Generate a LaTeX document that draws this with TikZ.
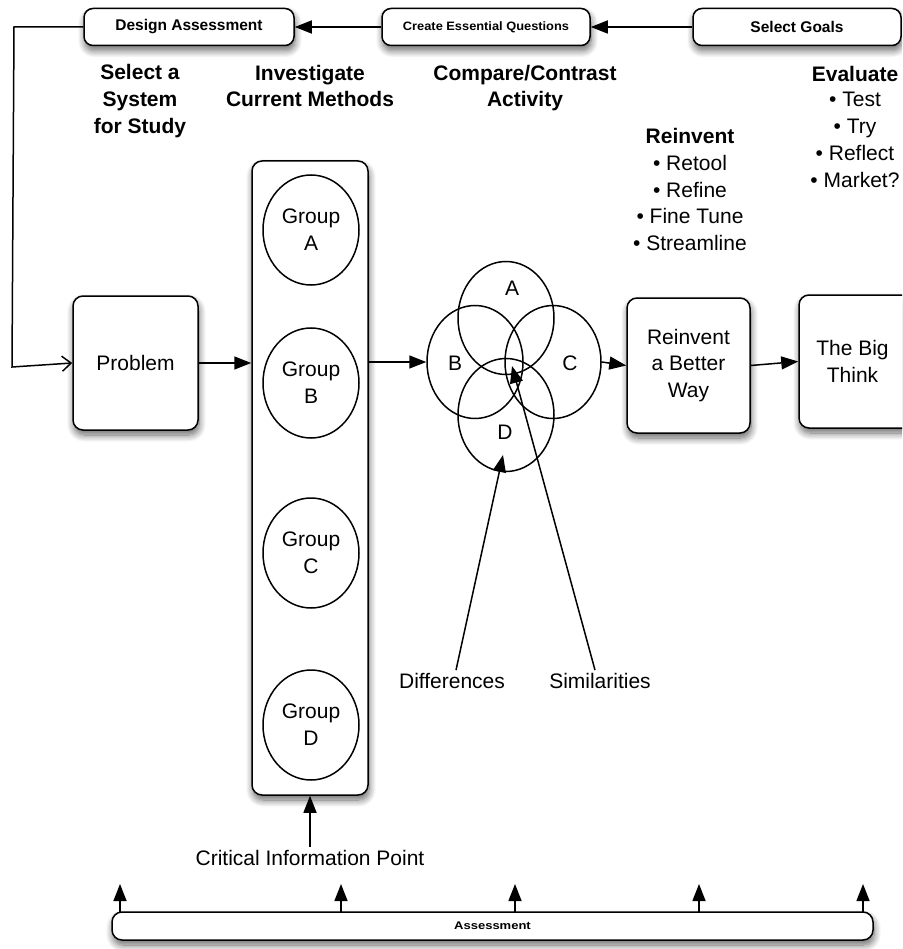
\documentclass[tikz,border=0pt]{standalone}
\usepackage{fontspec}
\setmainfont{Liberation Sans}
\usetikzlibrary{arrows.meta,shapes.geometric,shadows.blur}

\tikzset{
  ln/.style={line width=1.5pt},
  arr/.style={ln,-{Triangle[length=17pt,width=13pt]}},
  openarr/.style={ln,-{Straight Barb[length=9pt,width=15pt]}},
  softshadow/.style={blur shadow={shadow xshift=1pt,shadow yshift=-5pt,shadow blur steps=10,shadow blur radius=7pt,shadow opacity=60}},
  topbox/.style={draw,ln,rounded corners=9pt,fill=white,softshadow,minimum height=37pt,inner sep=0pt,font=\bfseries\fontsize{15.5}{17}\selectfont},
  stagebox/.style={draw,ln,rounded corners=10pt,fill=white,softshadow,inner sep=0pt,align=center,font=\fontsize{21}{26.5}\selectfont},
  grp/.style={draw,ln,ellipse,fill=white,minimum width=96pt,minimum height=110pt,inner sep=0pt,align=center,font=\fontsize{21}{27}\selectfont},
  venn/.style={draw,ln,ellipse,minimum width=96pt,minimum height=113pt,inner sep=0pt},
  lbl/.style={inner sep=0pt,font=\fontsize{21}{24}\selectfont},
  head/.style={inner sep=0pt,align=center,font=\bfseries\fontsize{21}{26.7}\selectfont},
  items/.style={inner sep=0pt,align=center,font=\fontsize{21}{26.9}\selectfont}
}

\begin{document}
\begin{tikzpicture}[x=1pt,y=-1pt]
\useasboundingbox (0,0) rectangle (902,949);
\begin{scope}
\clip (0,0) rectangle (902,949);

% planning boxes along the top
\node[topbox,minimum width=210pt] (design) at (189,27) {Design Assessment};
\node[topbox,minimum width=208pt,font=\bfseries\fontsize{13.5}{15}\selectfont] (create) at (486,27) {\scalebox{0.95}[0.9]{Create Essential Questions}};
\node[topbox,minimum width=208pt] (goals) at (797,27) {Select Goals};
\draw[arr] (goals.west) -- (create.east);
\draw[arr] (create.west) -- (design.east);

% stage headings
\node[head] (hsel) at (140,101) {Select a\\System\\for Study};
\node[head] (hinv) at (310,86) {Investigate\\Current Methods};
\node[head] (hcmp) at (525,88) {Compare/Contrast\\Activity};
\node[head] (hrei) at (690,136) {Reinvent};
\node[items] (lrei) at (690,203) {• Retool\\• Refine\\• Fine Tune\\• Streamline};
\node[head] (heva) at (855,74) {Evaluate};
\node[items] (leva) at (855,140) {• Test\\• Try\\• Reflect\\• Market?};

% main stages
\node[stagebox,minimum width=125pt,minimum height=134pt] (problem) at (135.5,363) {Problem};
\node[draw,ln,rounded corners=10pt,fill=white,softshadow,minimum width=116pt,minimum height=634pt] (groups) at (310,478) {};
\node[grp] (ga) at (311,230) {Group\\A};
\node[grp] (gb) at (311,383) {Group\\B};
\node[grp] (gc) at (311,553) {Group\\C};
\node[grp] (gd) at (311,725) {Group\\D};

% four-way comparison
\node[venn] (va) at (506,318) {};
\node[venn] (vb) at (475,362) {};
\node[venn] (vc) at (553,362) {};
\node[venn] (vd) at (506,415) {};
\node[lbl] (la) at (512,288) {A};
\node[lbl] (lb) at (455,363) {B};
\node[lbl] (lc) at (570,363) {C};
\node[lbl] (ld) at (505,432) {D};

\node[stagebox,minimum width=123pt,minimum height=135pt] (reinvent) at (688.5,365.5) {Reinvent\\a Better\\Way};
\node[stagebox,minimum width=122pt,minimum height=133pt] (bigthink) at (860,361.5) {\hspace*{-15pt}The Big\\\hspace*{-15pt}Think};

% flow between stages
\draw[arr] (problem.east) -- (problem.east -| groups.west);
\draw[arr] (groups.east |- vb.west) -- (vb.west);
\draw[arr] (vc.east) -- (reinvent.west);
\draw[arr] (reinvent.east) -- (bigthink.west);

% feedback from assessment design to the problem
\coordinate (fb1) at (14,27);
\coordinate (fb2) at (12,367);
\draw[openarr] (design.west) -- (fb1) -- (fb2) -- (problem.west);

% differences and similarities
\node[lbl] (diff) at (452,681) {Differences};
\node[lbl] (sim) at (600,681) {Similarities};
\coordinate (dtip) at (503,455);
\coordinate (stip) at (512,366);
\draw[arr] ([xshift=4pt,yshift=3pt]diff.north) -- (dtip);
\draw[arr] ([xshift=-5pt,yshift=3pt]sim.north) -- (stip);

% critical information point
\node[lbl] (cip) at (310,858) {Critical Information Point};
\draw[arr] ([yshift=3pt]cip.north) -- (groups.south);

% assessment bar with checkpoints
\node[draw,ln,rounded corners=10pt,fill=white,softshadow,minimum width=761pt,minimum height=28pt,inner sep=0pt,font=\bfseries\fontsize{13}{14}\selectfont] (assess) at (492.5,926) {\scalebox{1}[0.85]{Assessment}};
\foreach \px/\nm in {120/c1,341/c2,515/c3,699/c4,863/c5}{
  \coordinate (\nm) at (\px,884);
  \draw[arr] (\px,912) -- (\nm);
}
\end{scope}
\end{tikzpicture}
\end{document}
